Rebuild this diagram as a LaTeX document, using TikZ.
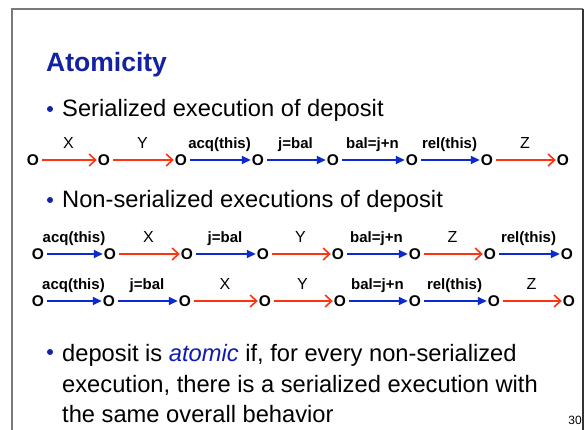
\documentclass[tikz,border=0pt]{standalone}
\usepackage{fontspec}
\setmainfont{Liberation Sans}
\usetikzlibrary{arrows.meta}

\definecolor{titleblue}{HTML}{1322A0}
\definecolor{arrred}{HTML}{FF3311}
\definecolor{arrblue}{HTML}{0B2BD0}
\definecolor{framegray}{HTML}{7A7A7A}

\tikzset{
	st/.style={font=\fontsize{15.5}{15}\selectfont\bfseries, inner sep=1pt},
	ser/.style={draw=arrred, line width=1.7pt, shorten <=2pt,
		-{Straight Barb[length=6.5pt,width=12pt,line width=1.6pt]}},
	par/.style={draw=arrblue, line width=1.7pt, shorten <=2pt,
		-{Triangle[length=9pt,width=8pt]}},
	lbl/.style={font=\fontsize{15}{15}\selectfont\bfseries, anchor=base, yshift=11pt, inner sep=0pt},
	lblr/.style={font=\fontsize{16}{16}\selectfont, anchor=base, yshift=11pt, inner sep=0pt},
	body/.style={font=\fontsize{23.7}{28}\selectfont, anchor=base west, inner sep=0pt}
}

\begin{document}
\begin{tikzpicture}[x=1pt, y=-1pt]
	\useasboundingbox (0,0) rectangle (586,430);
	
	% --- KHUNG ---
	\draw[framegray, line width=1.8pt] (12,430) -- (12,9) -- (583,9);
	\draw[black!80, line width=1.8pt] (583,9) -- (583,430);
	
	% --- TIEU DE ---
	\node[font=\fontsize{26.5}{30}\selectfont\bfseries, text=titleblue, anchor=base west, inner sep=0pt]
		(title) at (46,72) {Atomicity};
	
	% --- DONG 1: thuc thi tuan tu ---
	\fill[titleblue] (50,109) circle (3pt);
	\node[body] (t1) at (62,117) {Serialized execution of deposit};
	\foreach \x [count=\i] in {33,104,181,258,333,412,487,563}
		\node[st] (a\i) at (\x,160) {O};
	\draw[ser] (a1) -- node[lblr]{X} (a2);
	\draw[ser] (a2) -- node[lblr]{Y} (a3);
	\draw[par] (a3) -- node[lbl]{acq(this)} (a4);
	\draw[par] (a4) -- node[lbl]{j=bal} (a5);
	\draw[par] (a5) -- node[lbl]{bal=j+n} (a6);
	\draw[par] (a6) -- node[lbl]{rel(this)} (a7);
	\draw[ser] (a7) -- node[lblr]{Z} (a8);
	
	% --- DONG 2: thuc thi xen ke ---
	\fill[titleblue] (50,200) circle (3pt);
	\node[body] (t2) at (62,208) {Non-serialized executions of deposit};
	\foreach \x [count=\i] in {38,110,187,263,338,415,490,567}
		\node[st] (b\i) at (\x,254) {O};
	\draw[par] (b1) -- node[lbl]{acq(this)} (b2);
	\draw[ser] (b2) -- node[lblr]{X} (b3);
	\draw[par] (b3) -- node[lbl]{j=bal} (b4);
	\draw[ser] (b4) -- node[lblr]{Y} (b5);
	\draw[par] (b5) -- node[lbl]{bal=j+n} (b6);
	\draw[ser] (b6) -- node[lblr]{Z} (b7);
	\draw[par] (b7) -- node[lbl]{rel(this)} (b8);
	
	\foreach \x [count=\i] in {38,109,185,265,340,415,494,569}
		\node[st] (c\i) at (\x,301) {O};
	\draw[par] (c1) -- node[lbl]{acq(this)} (c2);
	\draw[par] (c2) -- node[lbl]{j=bal} (c3);
	\draw[ser] (c3) -- node[lblr]{X} (c4);
	\draw[ser] (c4) -- node[lblr]{Y} (c5);
	\draw[par] (c5) -- node[lbl]{bal=j+n} (c6);
	\draw[par] (c6) -- node[lbl]{rel(this)} (c7);
	\draw[ser] (c7) -- node[lblr]{Z} (c8);
	
	% --- DONG 3: dinh nghia ---
	\fill[titleblue] (50,352) circle (3pt);
	\node[body] (t3) at (62,361) {deposit is \textcolor{titleblue!80!blue}{\itshape atomic} if, for every non-serialized};
	\node[body] (t4) at (62,392) {execution, there is a serialized execution with};
	\node[body] (t5) at (62,422) {the same overall behavior};
	
	% so trang
	\node[font=\fontsize{12}{12}\selectfont, anchor=base east, inner sep=0pt] (pg) at (582,424) {30};
\end{tikzpicture}
\end{document}
